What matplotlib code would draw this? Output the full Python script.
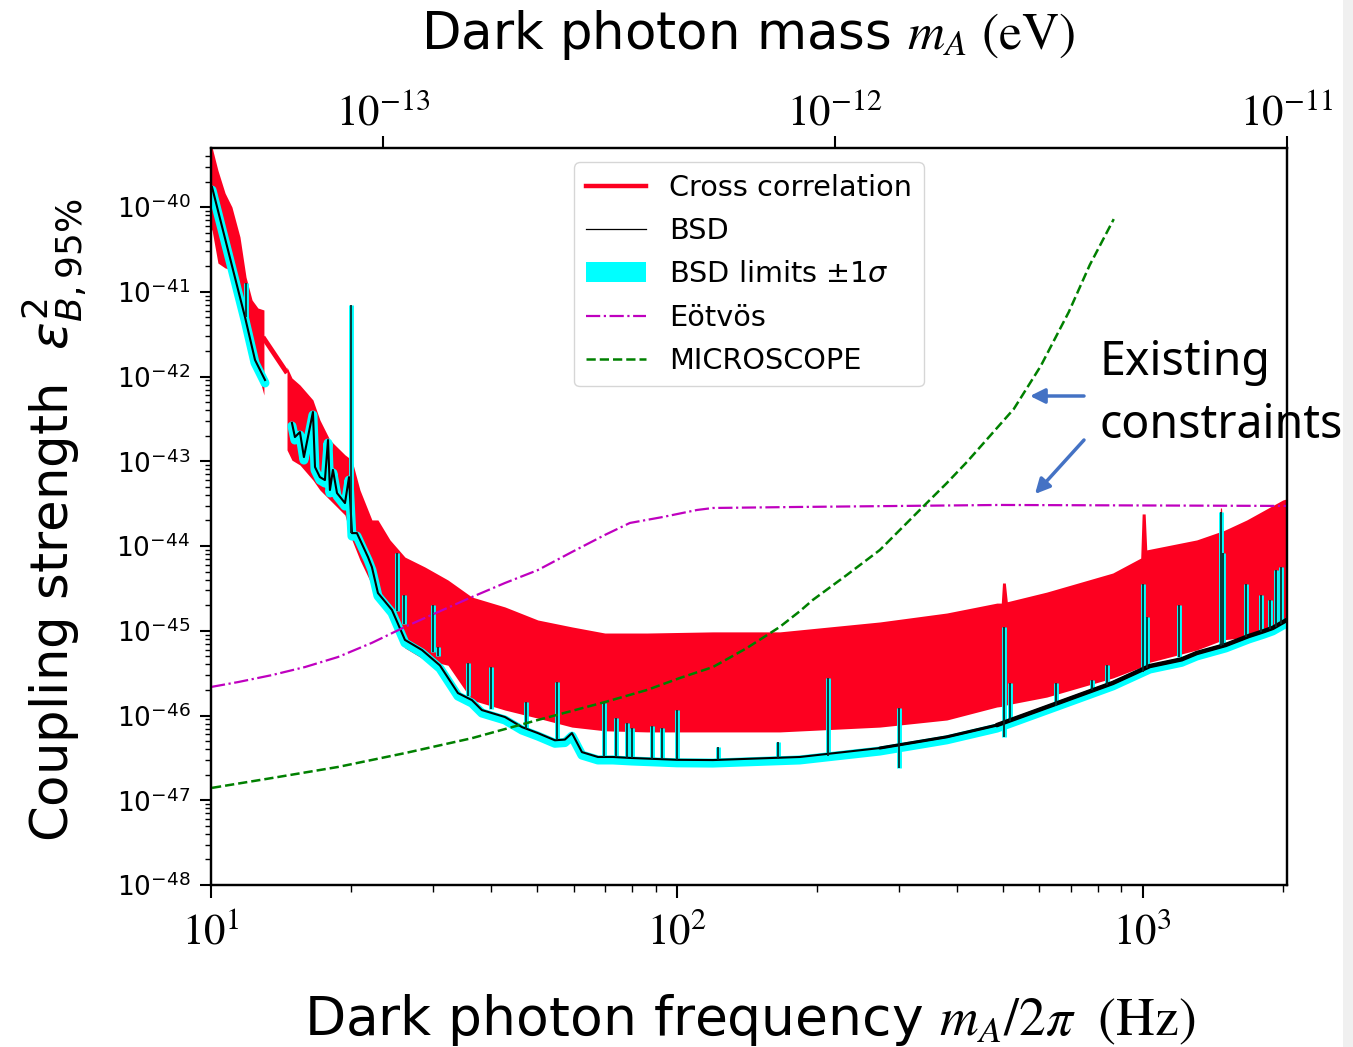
import numpy as np
import matplotlib
matplotlib.use("Agg")
import matplotlib.pyplot as plt
from matplotlib.lines import Line2D
from matplotlib.patches import Patch, Rectangle
import matplotlib.ticker as mticker
import matplotlib.transforms as mtransforms

# ---------------- data ----------------
# Cross-correlation limits, first data block (10-13 Hz): upper / lower envelope
cc_low_freq = [10.0, 10.05, 10.35, 10.72, 11.09, 11.54, 11.89, 12.25, 12.61, 12.99]
cc_low_upper = [6e-40, 5.1e-40, 2.7e-40, 1.46e-40, 1e-40, 4.43e-41, 1.49e-41, 8.0e-42, 6.43e-42, 6.1e-42]
cc_low_lower = [5.4e-41, 5.36e-41, 2.18e-41, 1.91e-41, 1.81e-41, 6.6e-42, 5.03e-42, 1.89e-42, 1.10e-42, 6.05e-43]

# line joining the two blocks across the data gap
cc_gap_freq = [12.93, 14.56]
cc_gap_val = [2.92e-42, 1.10e-42]

# Cross-correlation limits, main block (14.5-2000 Hz)
cc_freq = [14.56, 14.92, 15.52, 16.55, 17.13, 18.0, 19.39, 20.07, 20.88, 22.15,
           22.82, 24.22, 26.08, 28.79, 32.26, 36.31, 42.75, 50.3, 59.53, 70.05,
           86.24, 119.5, 166.3, 272.7, 379.7, 486.2, 497, 500, 507, 512,
           622.3, 862.2, 990, 997, 1012, 1020, 1306, 1460, 1468, 1476,
           1485, 1672, 1998, 2037]
cc_upper = [1.29e-42, 9.6e-43, 7.94e-43, 5.29e-43, 3.07e-43, 1.78e-43, 1.19e-43, 1.03e-43, 4.58e-44, 2.03e-44,
            2.03e-44, 1.18e-44, 7.4e-45, 5.65e-45, 3.97e-45, 2.5e-45, 1.91e-45, 1.34e-45, 1.11e-45, 9.4e-46,
            9.4e-46, 9.7e-46, 9.7e-46, 1.27e-45, 1.62e-45, 2.12e-45, 2.12e-45, 3.66e-45, 3.66e-45, 2.2e-45,
            2.86e-45, 4.8e-45, 7.2e-45, 2.39e-44, 2.39e-44, 9e-45, 1.18e-44, 1.46e-44, 2.81e-44, 2.81e-44,
            1.5e-44, 2.03e-44, 3.49e-44, 3.6e-44]
cc_lower = [1.36e-43, 1.03e-43, 9.04e-44, 6.0e-44, 4.58e-44, 3.49e-44, 2.32e-44, 1.18e-44, 6.84e-45, 3.47e-45,
            2.64e-45, 1.53e-45, 6.26e-46, 4.52e-46, 3.92e-46, 1.52e-46, 1.16e-46, 9.3e-47, 7.3e-47, 6.6e-47,
            6.4e-47, 6.4e-47, 6.4e-47, 7.3e-47, 8.85e-47, 1.26e-46, 1.28e-46, 1.3e-46, 1.32e-46, 1.34e-46,
            1.65e-46, 2.77e-46, 3.7e-46, 3.8e-46, 4.0e-46, 4.16e-46, 5.93e-46, 7.5e-46, 7.6e-46, 7.7e-46,
            7.8e-46, 8.4e-46, 1.23e-45, 1.25e-45]

# BSD limit, smooth part (NaN marks the data gap between 13 and 15 Hz)
bsd_freq = [10.05, 11.83, 12.43, 13.06, np.nan,
            14.92, 15.14, 15.52, 15.83, 16.55, 16.72, 17.13, 17.56, 17.83, 18.0,
            18.27, 18.64, 19.39, 19.78, 20.07, 20.57, 21.73, 22.15, 22.82, 24.46,
            26.08, 28.37, 31.0, 33.89, 36.31, 38.14, 42.75, 46.5, 50.3, 54.72,
            57.5, 59.53, 62.54, 67.68, 72.88, 80.06, 100.0, 119.5, 183.6, 272.7,
            379.7, 486.2, 622.3, 862.2, 1035.0, 1212.0, 1306.0, 1507.0, 1689.0, 1819.0,
            1901.0, 2037.0]
bsd_val = [1.72e-40, 5.03e-42, 1.57e-42, 9.1e-43, np.nan,
           2.83e-43, 1.93e-43, 2.21e-43, 1.12e-43, 3.81e-43, 8.55e-44, 6.5e-44, 6.0e-44, 1.78e-43, 4.58e-44,
           7.9e-44, 4.22e-44, 3.21e-44, 6.5e-44, 1.42e-44, 1.42e-44, 7.4e-45, 5.65e-45, 2.79e-45, 1.76e-45,
           7.8e-46, 5.93e-46, 3.9e-46, 1.84e-46, 1.52e-46, 1.16e-46, 9.6e-47, 7.3e-47, 6.2e-47, 5.1e-47,
           5.2e-47, 6.2e-47, 3.7e-47, 3.24e-47, 3.24e-47, 3.15e-47, 3.0e-47, 2.98e-47, 3.24e-47, 4.13e-47,
           5.6e-47, 7.7e-47, 1.26e-46, 2.42e-46, 3.83e-46, 4.6e-46, 5.46e-46, 6.8e-46, 8.67e-46, 9.9e-46,
           1.08e-45, 1.34e-45]

# BSD narrow lines (spikes): frequency, foot and peak
spike_freq = [11.89, 19.98, 25.07, 25.95, 29.95, 30.7, 35.6, 39.89, 47.42, 55.27,
              69.7, 73.97, 78.1, 80.06, 88.4, 92.87, 100.0, 122.4, 164.7, 210.9,
              299.5, 503.3, 520.0, 650.6, 777.0, 837.0, 1000.0, 1020.0, 1195.0, 1471.0,
              1485.0, 1663.0, 1792.0, 1873.0, 1930.0, 1978.0]
spike_base = [5.0e-42, 1.42e-44, 1.7e-45, 1.2e-45, 5.6e-46, 5.0e-46, 1.7e-46, 1.2e-46, 7.0e-47, 5.1e-47,
              3.24e-47, 3.2e-47, 3.15e-47, 3.15e-47, 3.1e-47, 3.05e-47, 3.0e-47, 2.98e-47, 3.1e-47, 3.3e-47,
              2.4e-47, 5.6e-47, 8.5e-47, 1.3e-46, 2.0e-46, 2.3e-46, 3.3e-46, 3.6e-46, 4.9e-46, 6.6e-46,
              6.7e-46, 8.4e-46, 9.6e-46, 1.05e-45, 1.12e-45, 1.2e-45]
spike_peak = [1.27e-41, 6.98e-42, 8.3e-45, 2.64e-45, 2.01e-45, 6.43e-46, 4.16e-46, 3.73e-46, 1.44e-46, 2.48e-46,
              1.4e-46, 9.3e-47, 8.2e-47, 7.1e-47, 7.5e-47, 7.1e-47, 1.16e-46, 4.25e-47, 4.87e-47, 2.77e-46,
              1.23e-46, 1.11e-45, 2.4e-46, 2.42e-46, 2.6e-46, 3.94e-46, 3.56e-45, 1.45e-45, 2.01e-45, 2.52e-44,
              8.3e-45, 3.56e-45, 2.64e-45, 2.31e-45, 5.2e-45, 5.65e-45]

# Eotvos constraint
eot_freq = [10.0, 11.43, 13.52, 15.91, 18.73, 22.15, 26.08, 30.7, 36.31, 42.75,
            50.3, 59.53, 70.05, 79.27, 93.33, 110.4, 119.5, 183.6, 493.0, 2037.0]
eot_val = [2.17e-46, 2.48e-46, 3.0e-46, 3.73e-46, 4.9e-46, 7.2e-46, 1.11e-45, 1.66e-45, 2.5e-45, 3.66e-45,
           5.2e-45, 8.5e-45, 1.35e-44, 1.87e-44, 2.2e-44, 2.66e-44, 2.81e-44, 2.89e-44, 3.05e-44, 2.97e-44]

# MICROSCOPE constraint
mic_freq = [10.05, 13.52, 18.73, 26.08, 36.31, 50.3, 70.05, 86.24, 101.5, 119.5,
            141.3, 166.3, 183.6, 195.8, 231.6, 272.7, 337.2, 379.7, 419.3, 528.7,
            604.0, 693.8, 769.6, 866.5]
mic_val = [1.4e-47, 1.83e-47, 2.47e-47, 3.6e-47, 5.4e-47, 8.85e-47, 1.44e-46, 2.0e-46, 2.77e-46, 3.73e-46,
           6.25e-46, 1.11e-45, 1.7e-45, 2.31e-45, 4.55e-45, 8.97e-45, 2.89e-44, 5.53e-44, 9.8e-44, 4.14e-43,
           1.33e-42, 5.77e-42, 2.07e-41, 7.2e-41]

freq_ticks = [10, 100, 1000]
freq_ticklabels = [r"$10^{1}$", r"$10^{2}$", r"$10^{3}$"]
mass_ticks = [1e-13, 1e-12, 1e-11]
mass_ticklabels = [r"$10^{-13}$", r"$10^{-12}$", r"$10^{-11}$"]
y_ticks = [10.0 ** -k for k in range(40, 49)]

legend_labels = ["Cross correlation", "BSD", r"BSD limits $\pm1\sigma$", "Eötvös", "MICROSCOPE"]

# ---------------- figure ----------------
W, H, DPI = 1353, 1047, 100
fig = plt.figure(figsize=(W / DPI, H / DPI), dpi=DPI)
fig.patch.set_facecolor("white")
ax = fig.add_axes([211 / W, 1 - 885 / H, (1287 - 211) / W, (885 - 148) / H])

RED = "#fd0020"
ax.set_xscale("log")
ax.set_yscale("log")
ax.set_xlim(10, 2040)
ax.set_ylim(1e-48, 4.97e-40)

ax.fill_between(cc_low_freq, cc_low_lower, cc_low_upper, color=RED, lw=0, zorder=2)
ax.fill_between(cc_freq, cc_lower, cc_upper, color=RED, lw=0, zorder=2)
ax.plot(cc_gap_freq, cc_gap_val, color=RED, lw=3.5, zorder=2, solid_capstyle="butt")

bsd_f = np.array(bsd_freq)
bsd_v = np.array(bsd_val)
# the high-frequency part of the BSD curve is a noisy, thicker band
mid = bsd_f >= 270
high = bsd_f >= 480

shift = mtransforms.offset_copy(ax.transData, fig=fig, x=0, y=-3.0, units="dots")
ax.plot(bsd_f, bsd_v, color="cyan", lw=6.5, transform=shift, zorder=3,
        solid_joinstyle="round", solid_capstyle="round")
ax.vlines(spike_freq, spike_base, spike_peak, color="cyan", lw=3.5, zorder=3)
ax.plot(bsd_f, bsd_v, color="black", lw=1.5, zorder=4)
ax.plot(bsd_f[mid], bsd_v[mid], color="black", lw=2.2, zorder=4, solid_capstyle="round")
ax.plot(bsd_f[high], bsd_v[high], color="black", lw=3.2, zorder=4, solid_capstyle="round")
ax.vlines(spike_freq, spike_base, spike_peak, color="#0a2a2a", lw=1.3, zorder=4)
ax.plot(eot_freq, eot_val, color="m", ls="-.", lw=1.6, zorder=5)
ax.plot(mic_freq, mic_val, color="g", ls="--", lw=1.8, zorder=5)

# axes styling
for s in ax.spines.values():
    s.set_linewidth(1.6)
ax.set_yticks(y_ticks)
ax.yaxis.set_minor_locator(mticker.LogLocator(base=10, subs=np.arange(2, 10), numticks=100))
ax.yaxis.set_minor_formatter(mticker.NullFormatter())
ax.tick_params(axis="y", which="major", length=8, width=1.5, labelsize=19, pad=7, direction="out")
ax.tick_params(axis="y", which="minor", length=4, width=1.0, direction="out")

ax.set_xticks(freq_ticks)
ax.set_xticklabels(freq_ticklabels)
ax.xaxis.set_minor_locator(mticker.LogLocator(base=10, subs=np.arange(2, 10), numticks=100))
ax.xaxis.set_minor_formatter(mticker.NullFormatter())
ax.tick_params(axis="x", which="major", length=9, width=1.5, labelsize=31, pad=10, direction="out")
ax.tick_params(axis="x", which="minor", length=5, width=1.0, direction="out")
for t in ax.get_xticklabels():
    t.set_math_fontfamily("stix")
ax.tick_params(top=False, right=False, which="both")

ax2 = ax.twiny()
ax2.set_xscale("log")
ax2.set_xlim(4.164e-14, 1e-11)
ax2.set_xticks(mass_ticks)
ax2.set_xticklabels(mass_ticklabels)
ax2.xaxis.set_minor_locator(mticker.NullLocator())
ax2.tick_params(axis="x", which="major", length=9, width=1.5, labelsize=31, pad=1, direction="out")
for t in ax2.get_xticklabels():
    t.set_math_fontfamily("stix")
for s in ax2.spines.values():
    s.set_linewidth(1.6)

# legend
handles = [
    Line2D([], [], color=RED, lw=3.2),
    Line2D([], [], color="black", lw=0.9),
    Patch(facecolor="cyan", edgecolor="none"),
    Line2D([], [], color="m", ls="-.", lw=1.6),
    Line2D([], [], color="g", ls="--", lw=1.8),
]
leg = ax.legend(handles, legend_labels, loc="upper center", fontsize=20.7,
                handlelength=2.1, labelspacing=0.53, handletextpad=0.8,
                borderpad=0.4, framealpha=0.8, borderaxespad=0.5)
leg.set_zorder(10)

# labels
label_family = ["Liberation Sans Narrow", "DejaVu Sans"]
fig.text(750 / W, 1 - 1020 / H, r"Dark photon frequency $m_A/2\pi\ \ (\mathrm{Hz})$",
         ha="center", va="center", fontsize=38.5, family=label_family, math_fontfamily="stix")
fig.text(748 / W, 1 - 35 / H, r"Dark photon mass $m_A\ (\mathrm{eV})$",
         ha="center", va="center", fontsize=37, family=label_family, math_fontfamily="stix")
fig.text(54 / W, 1 - 520 / H, r"Coupling strength  $\epsilon^2_{B,95\%}$", rotation=90,
         ha="center", va="center", fontsize=37, family=label_family, math_fontfamily="dejavusans")

# annotation
fig.text(1100 / W, 1 - 375 / H, "Existing", ha="left", va="baseline", fontsize=33.5, family="Noto Sans")
fig.text(1100 / W, 1 - 438 / H, "constraints", ha="left", va="baseline", fontsize=33.5, family="Noto Sans")
arrow_kw = dict(arrowstyle="-|>", color="#4472C4", lw=2.5, mutation_scale=22, shrinkA=0, shrinkB=0)
ax.annotate("", xy=(1030, H - 396), xytext=(1084, H - 396), xycoords="figure pixels",
            textcoords="figure pixels", arrowprops=arrow_kw, annotation_clip=False)
ax.annotate("", xy=(1035, H - 494), xytext=(1084, H - 440), xycoords="figure pixels",
            textcoords="figure pixels", arrowprops=arrow_kw, annotation_clip=False)

# grey strip at the right edge of the reference picture
fig.patches.append(Rectangle((1343 / W, 0), 10 / W, 1, transform=fig.transFigure,
                             facecolor="#f0f0f0", edgecolor="none", zorder=-1))

fig.savefig("out.png", dpi=DPI)
